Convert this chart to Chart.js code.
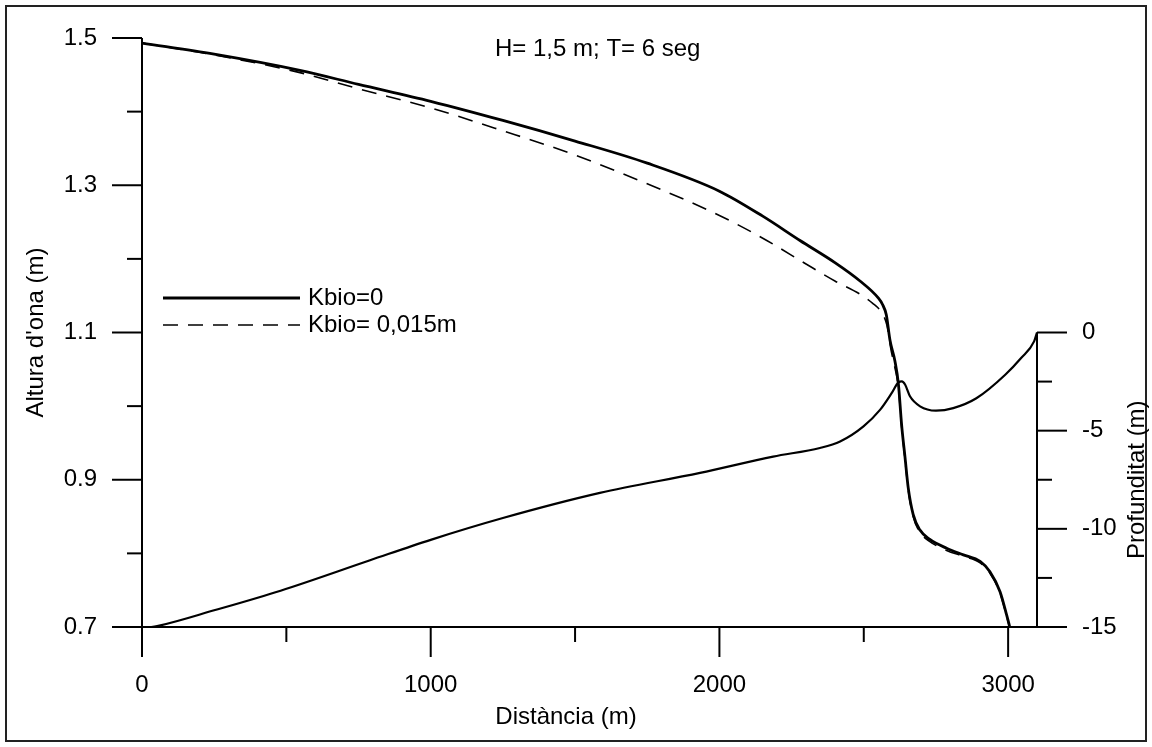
<!DOCTYPE html>
<html>
<head>
<meta charset="utf-8">
<script src="https://cdn.jsdelivr.net/npm/chart.js@4.4.1/dist/chart.umd.min.js"></script>
<style>
  html, body { margin: 0; padding: 0; background: #fff; }
  #wrap { width: 1152px; height: 747px; position: relative; }
</style>
</head>
<body>
<div id="wrap"><canvas id="c" width="1152" height="747"></canvas></div>
<script>
const FONT = '"Liberation Sans", Arial, Helvetica, sans-serif';
const FONT_SIZE = 24;

// Wave height along the profile, Kbio = 0
const distKbio0 = [0, 250, 547, 750, 1000, 1250, 1500, 1750, 2000, 2150, 2279, 2400, 2487, 2550, 2565, 2578, 2591, 2608, 2620, 2631, 2643, 2654, 2671, 2694, 2729, 2787, 2845, 2903, 2937, 2972, 2995, 3006, 3015];
const heightKbio0 = [1.493, 1.478, 1.456, 1.437, 1.414, 1.388, 1.360, 1.330, 1.292, 1.258, 1.225, 1.195, 1.170, 1.147, 1.138, 1.124, 1.089, 1.061, 1.030, 0.975, 0.930, 0.889, 0.853, 0.832, 0.819, 0.807, 0.798, 0.789, 0.775, 0.748, 0.716, 0.699, 0.680];

// Wave height along the profile, Kbio = 0.015 m
const distKbio015 = [0, 250, 547, 750, 1000, 1250, 1500, 1750, 2000, 2164, 2300, 2400, 2487, 2530, 2560, 2580, 2595, 2608, 2620, 2631, 2643, 2654, 2671, 2694, 2729, 2787, 2845, 2903, 2937, 2972, 2995, 3006, 3015];
const heightKbio015 = [1.493, 1.477, 1.453, 1.431, 1.405, 1.374, 1.341, 1.302, 1.259, 1.225, 1.193, 1.170, 1.152, 1.140, 1.128, 1.110, 1.075, 1.052, 1.025, 0.972, 0.927, 0.886, 0.850, 0.829, 0.816, 0.804, 0.796, 0.787, 0.773, 0.746, 0.714, 0.697, 0.678];

// Bottom profile (depth, right axis)
const depthDist = [0, 60, 250, 480, 790, 1000, 1250, 1586, 1933, 2186, 2348, 2418, 2499, 2557, 2597, 2620, 2632, 2643, 2660, 2695, 2750, 2810, 2890, 2990, 3045, 3090, 3100];
const depthValues = [-15.08, -14.93, -14.15, -13.15, -11.6, -10.56, -9.45, -8.17, -7.15, -6.32, -5.88, -5.55, -4.78, -3.93, -3.08, -2.54, -2.49, -2.65, -3.25, -3.76, -3.98, -3.85, -3.35, -2.15, -1.3, -0.45, 0];

// Axis ticks
const xMajorTicks = [0, 1000, 2000, 3000];
const xMinorTicks = [500, 1500, 2500];
const hMajorTicks = [0.7, 0.9, 1.1, 1.3, 1.5];
const hMinorTicks = [0.8, 1.0, 1.2, 1.4];
const depthMajorTicks = [0, -5, -10, -15];
const depthMinorTicks = [-2.5, -7.5, -12.5];

const seriesLabels = ['Kbio=0', 'Kbio= 0,015m'];
const depthLabel = 'Profunditat (m)';
const heightTitle = "Altura d'ona (m)";
const distTitle = 'Distància (m)';
const caseLabel = 'H= 1,5 m; T= 6 seg';

const toPoints = (xs, ys) => xs.map((x, i) => ({ x: x, y: ys[i] }));

const MAJOR = 30, MINOR = 15;

const frameAndAxes = {
  id: 'frameAndAxes',
  afterDraw(chart) {
    const ctx = chart.ctx;
    const xs = chart.scales.x, ys = chart.scales.y, ds = chart.scales.y2;
    const area = chart.chartArea;
    ctx.save();
    ctx.lineCap = 'butt';

    // outer frame
    ctx.lineWidth = 2;
    ctx.strokeStyle = '#222';
    ctx.strokeRect(6, 6, 1140, 735);
    ctx.strokeStyle = '#000';

    const line = (x1, y1, x2, y2) => { ctx.beginPath(); ctx.moveTo(x1, y1); ctx.lineTo(x2, y2); ctx.stroke(); };

    ctx.lineWidth = 2;
    // left axis
    const lx = area.left;
    line(lx, ys.getPixelForValue(1.5), lx, area.bottom);
    hMajorTicks.forEach(v => { const p = ys.getPixelForValue(v); line(lx - MAJOR, p, lx, p); });
    hMinorTicks.forEach(v => { const p = ys.getPixelForValue(v); line(lx - MINOR, p, lx, p); });

    // bottom axis
    const by = area.bottom;
    line(area.left, by, area.right, by);
    xMajorTicks.forEach(v => { const p = xs.getPixelForValue(v); line(p, by, p, by + MAJOR); });
    xMinorTicks.forEach(v => { const p = xs.getPixelForValue(v); line(p, by, p, by + MINOR); });

    // right (depth) axis
    const rx = area.right;
    line(rx, ds.getPixelForValue(0), rx, ds.getPixelForValue(-15));
    depthMajorTicks.forEach(v => { const p = ds.getPixelForValue(v); line(rx, p, rx + MAJOR, p); });
    depthMinorTicks.forEach(v => { const p = ds.getPixelForValue(v); line(rx, p, rx + MINOR, p); });

    // titles
    ctx.fillStyle = '#000';
    ctx.font = FONT_SIZE + 'px ' + FONT;
    ctx.textAlign = 'center';
    ctx.textBaseline = 'middle';

    ctx.save();
    ctx.translate(36, (area.top + area.bottom) / 2);
    ctx.rotate(-Math.PI / 2);
    ctx.fillText(heightTitle, 0, 0);
    ctx.restore();

    ctx.save();
    ctx.translate(1137, (ds.getPixelForValue(0) + ds.getPixelForValue(-15)) / 2);
    ctx.rotate(-Math.PI / 2);
    ctx.fillText(depthLabel, 0, 0);
    ctx.restore();

    ctx.fillText(distTitle, 566, 717);

    ctx.textAlign = 'left';
    ctx.textBaseline = 'alphabetic';
    ctx.fillText(caseLabel, 495, 56);

    // legend
    ctx.textBaseline = 'middle';
    ctx.lineWidth = 2.8;
    line(163, 298, 300, 298);
    ctx.fillText(seriesLabels[0], 308, 298);
    ctx.lineWidth = 1.6;
    ctx.setLineDash([15, 10]);
    line(163, 325, 300, 325);
    ctx.setLineDash([]);
    ctx.fillText(seriesLabels[1], 308, 325);

    ctx.restore();
  }
};

const tickFont = { family: FONT, size: FONT_SIZE };
// label offset comes from an invisible tick mark, so the axis padding stays small
const hiddenGrid = len => ({
  display: true,
  drawOnChartArea: false,
  drawTicks: true,
  tickLength: len,
  color: 'rgba(0,0,0,0)',
  tickColor: 'rgba(0,0,0,0)'
});

new Chart(document.getElementById('c'), {
  type: 'line',
  data: {
    datasets: [
      {
        label: seriesLabels[0],
        data: toPoints(distKbio0, heightKbio0),
        yAxisID: 'y',
        borderColor: '#000',
        borderWidth: 2.8,
        pointRadius: 0,
        fill: false,
        cubicInterpolationMode: 'monotone'
      },
      {
        label: seriesLabels[1],
        data: toPoints(distKbio015, heightKbio015),
        yAxisID: 'y',
        borderColor: '#000',
        borderWidth: 1.6,
        borderDash: [15, 10],
        pointRadius: 0,
        fill: false,
        cubicInterpolationMode: 'monotone'
      },
      {
        label: depthLabel,
        data: toPoints(depthDist, depthValues),
        yAxisID: 'y2',
        borderColor: '#000',
        borderWidth: 2.2,
        pointRadius: 0,
        fill: false,
        cubicInterpolationMode: 'monotone'
      }
    ]
  },
  options: {
    responsive: false,
    animation: false,
    devicePixelRatio: 1,
    layout: { padding: { top: 38, left: 0, right: 0, bottom: 0 } },
    plugins: { legend: { display: false }, tooltip: { enabled: false } },
    scales: {
      x: {
        type: 'linear',
        position: 'bottom',
        min: 0,
        max: 3100,
        grid: hiddenGrid(44),
        border: { display: false },
        ticks: { color: '#000', font: tickFont, padding: 0, maxRotation: 0, autoSkip: false,
                 callback: v => String(v) },
        afterBuildTicks: s => { s.ticks = xMajorTicks.map(v => ({ value: v })); },
        afterFit: s => { s.height = 120; }
      },
      y: {
        type: 'linear',
        position: 'left',
        min: 0.7,
        max: 1.5,
        grid: hiddenGrid(45),
        border: { display: false },
        ticks: { color: '#000', font: tickFont, padding: 0, autoSkip: false,
                 callback: v => Number(v).toFixed(1) },
        afterBuildTicks: s => { s.ticks = hMajorTicks.map(v => ({ value: v })); },
        afterFit: s => { s.width = 142; }
      },
      y2: {
        type: 'linear',
        position: 'right',
        min: -15,
        max: 15,
        grid: hiddenGrid(45),
        border: { display: false },
        ticks: { color: '#000', font: tickFont, padding: 0, autoSkip: false,
                 callback: v => String(v) },
        afterBuildTicks: s => { s.ticks = depthMajorTicks.map(v => ({ value: v })); },
        afterFit: s => { s.width = 115; }
      }
    }
  },
  plugins: [frameAndAxes]
});
</script>
</body>
</html>
